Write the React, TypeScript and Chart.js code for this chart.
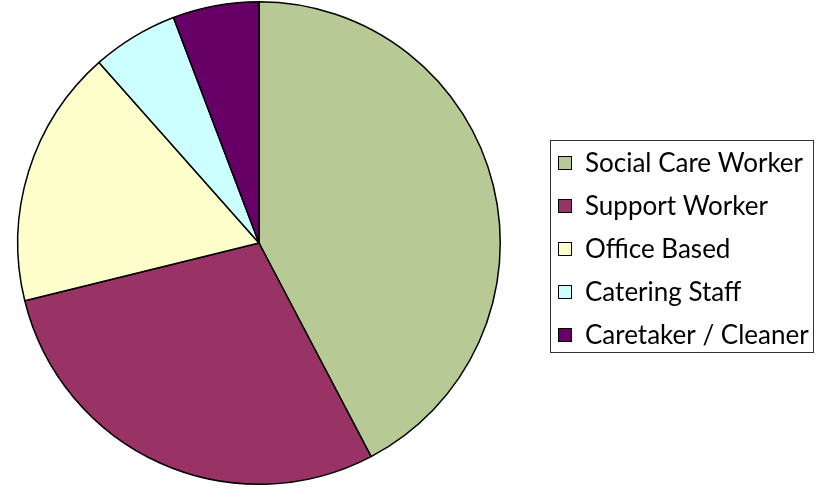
import React, { useEffect, useRef } from "react";
import { Chart, registerables } from "chart.js";

Chart.register(...registerables);

const categories = ["Social Care Worker", "Support Worker", "Office Based", "Catering Staff", "Caretaker / Cleaner"];
const values = [22, 15, 9, 3, 3];
const colors = ["#B7CA96", "#993366", "#FFFFCC", "#CCFFFF", "#660066"];

const boxLegend = {
  id: "boxLegend",
  afterDraw(chart: any) {
    const ctx = chart.ctx;
    const labels = chart.data.labels as string[];
    const bg = chart.data.datasets[0].backgroundColor as string[];
    const x0 = 550, y0 = 140, w = 263, h = 212;
    ctx.save();
    ctx.strokeStyle = "#333";
    ctx.lineWidth = 1;
    ctx.strokeRect(x0 + 0.5, y0 + 0.5, w, h);
    ctx.font = "26px Lato";
    ctx.textBaseline = "middle";
    labels.forEach((lab, i) => {
      const cy = 163 + i * 43;
      ctx.fillStyle = bg[i];
      ctx.fillRect(558, cy - 7, 14, 14);
      ctx.strokeStyle = "#000";
      ctx.strokeRect(558.5, cy - 6.5, 13, 13);
      ctx.fillStyle = "#000";
      ctx.fillText(lab, 585, cy + 1);
    });
    ctx.restore();
  },
};

export default function App() {
  const ref = useRef<HTMLCanvasElement>(null);
  useEffect(() => {
    const chart = new Chart(ref.current!, {
      type: "pie",
      data: {
        labels: categories,
        datasets: [
          {
            data: values,
            backgroundColor: colors,
            borderColor: "#000",
            borderWidth: 1.5,
          },
        ],
      },
      options: {
        animation: false,
        responsive: true,
        maintainAspectRatio: false,
        layout: { padding: { left: 17, right: 326, top: 1, bottom: 3 } },
        plugins: { legend: { display: false }, tooltip: { enabled: false } },
      },
      plugins: [boxLegend],
    });
    return () => chart.destroy();
  }, []);
  return (
    <div style={{ position: "fixed", left: 0, top: 0, width: 827, height: 488, background: "#fff" }}>
      <canvas ref={ref} />
    </div>
  );
}
